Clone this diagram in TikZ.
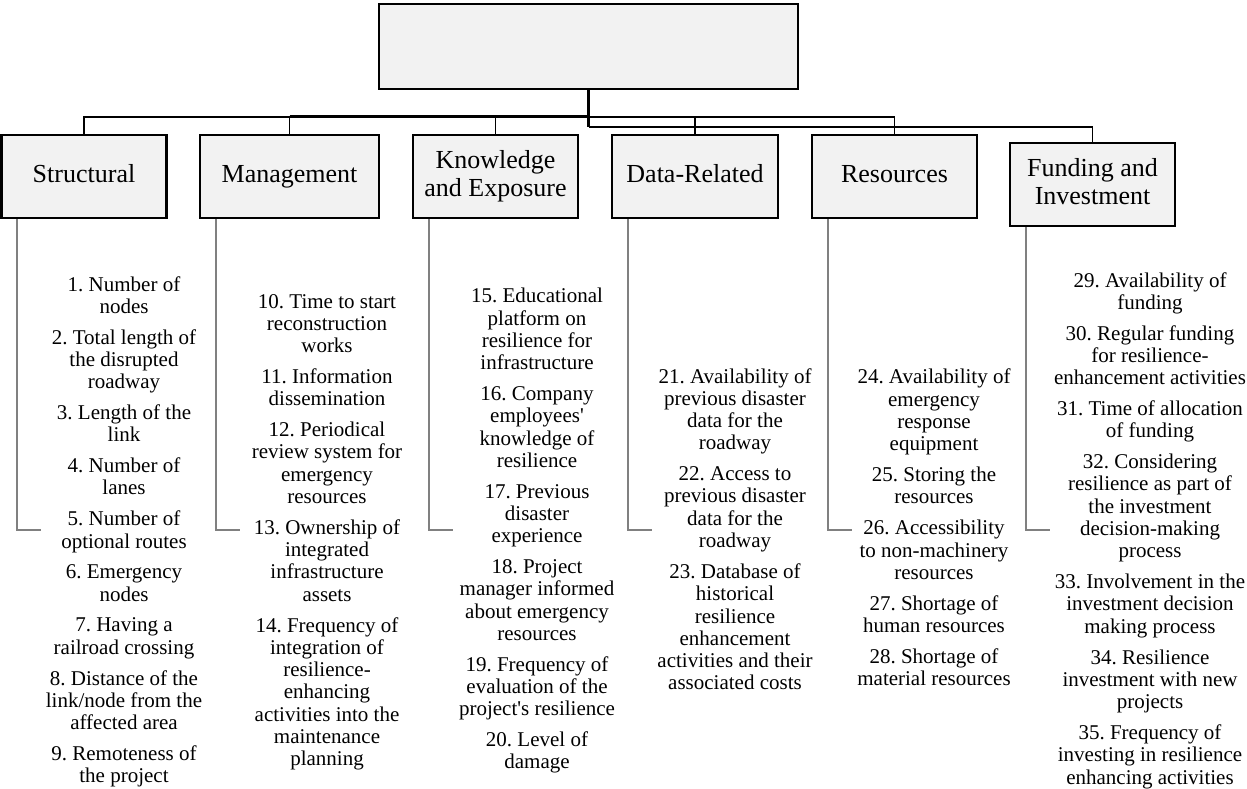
\documentclass[tikz,border=0pt]{standalone}
\usepackage{fontspec}
\setmainfont{Liberation Serif}
\frenchspacing
\definecolor{boxfill}{RGB}{242,242,242}
\definecolor{leadgray}{RGB}{128,128,128}
\tikzset{
  catbox/.style={draw, line width=2.4pt, fill=boxfill, minimum height=83pt,
    inner sep=2pt, align=center, font=\fontsize{26}{28}\selectfont},
  conn/.style={line width=1.8pt},
  leader/.style={draw=leadgray, line width=1.7pt},
  items/.style={anchor=north, align=center, inner sep=0pt,
    font=\fontsize{21}{22.3}\selectfont}
}
\def\gap{8.5pt}
\def\ap{\textquotesingle}

\begin{document}
\begin{tikzpicture}[x=1pt,y=-1pt]
        \useasboundingbox (0,0) rectangle (1247,788);
        % top box
        \node[catbox, minimum width=419pt, minimum height=85pt] (top) at (588.5,46.5) {};
        % category boxes
        \node[catbox, minimum width=165pt] (struct) at (84,176.5) {Structural\strut};
        \node[catbox, minimum width=179pt] (mgmt) at (289.5,176.5) {Management\strut};
        \node[catbox, minimum width=165pt] (know) at (495.5,176.5) {Knowledge\strut\\and Exposure\strut};
        \node[catbox, minimum width=166pt] (data) at (695,176.5) {Data-Related\strut};
        \node[catbox, minimum width=165pt] (res) at (894.5,176.5) {Resources\strut};
        \node[catbox, minimum width=165pt] (fund) at (1092.5,184.5) {Funding and\strut\\Investment\strut};
        % connectors from the top box
        \draw[conn] (struct.north) -- ++(0,-17) -| (res.north);
        \foreach \n in {mgmt,know,data}
          \draw[conn] (\n.north) -- ++(0,-17);
        \draw[conn, line width=2.8pt] ([yshift=17pt]mgmt.north) -- ([yshift=17pt]mgmt.north -| top.south);
        \draw[conn, line width=2.7pt] (top.south) -- ++(0,37) coordinate (split);
        \draw[conn, line width=1.7pt] (split) -| (fund.north);
        % gray leaders to the item lists
        \coordinate (lead) at (0,530);
        \foreach \n in {struct,mgmt,know,data,res,fund}
          \draw[leader] ([xshift=17pt]\n.south west) -- ([xshift=17pt]\n.south west |- lead) -- ++(24,0);
        % item lists
        \node[items] (sItems) at (124,276) {1. Number of\\nodes\\[\gap]
          2. Total length of\\the disrupted\\roadway\\[\gap]
          3. Length of the\\link\\[\gap]
          4. Number of\\lanes\\[\gap]
          5. Number of\\optional routes\\[\gap]
          6. Emergency\\nodes\\[\gap]
          7. Having a\\railroad crossing\\[\gap]
          8. Distance of the\\link/node from the\\affected area\\[\gap]
          9. Remoteness of\\the project};
        \node[items] (mItems) at (327,294) {10. Time to start\\reconstruction\\works\\[\gap]
          11. Information\\dissemination\\[\gap]
          12. Periodical\\review system for\\emergency\\resources\\[\gap]
          13. Ownership of\\integrated\\infrastructure\\assets\\[\gap]
          14. Frequency of\\integration of\\resilience-\\enhancing\\activities into the\\maintenance\\planning};
        \node[items] (kItems) at (537,288) {15. Educational\\platform on\\resilience for\\infrastructure\\[\gap]
          16. Company\\employees\ap\\knowledge of\\resilience\\[\gap]
          17. Previous\\disaster\\experience\\[\gap]
          18. Project\\manager informed\\about emergency\\resources\\[\gap]
          19. Frequency of\\evaluation of the\\project\ap s resilience\\[\gap]
          20. Level of\\damage};
        \node[items] (dItems) at (735,368) {21. Availability of\\previous disaster\\data for the\\roadway\\[\gap]
          22. Access to\\previous disaster\\data for the\\roadway\\[\gap]
          23. Database of\\historical\\resilience\\enhancement\\activities and their\\associated costs};
        \node[items] (rItems) at (934,369) {24. Availability of\\emergency\\response\\equipment\\[\gap]
          25. Storing the\\resources\\[\gap]
          26. Accessibility\\to non-machinery\\resources\\[\gap]
          27. Shortage of\\human resources\\[\gap]
          28. Shortage of\\material resources};
        \node[items] (fItems) at (1150,272) {29. Availability of\\funding\\[\gap]
          30. Regular funding\\for resilience-\\enhancement activities\\[\gap]
          31. Time of allocation\\of funding\\[\gap]
          32. Considering\\resilience as part of\\the investment\\decision-making\\process\\[\gap]
          33. Involvement in the\\investment decision\\making process\\[\gap]
          34. Resilience\\investment with new\\projects\\[\gap]
          35. Frequency of\\investing in resilience\\enhancing activities};
    \end{tikzpicture}
\end{document}
